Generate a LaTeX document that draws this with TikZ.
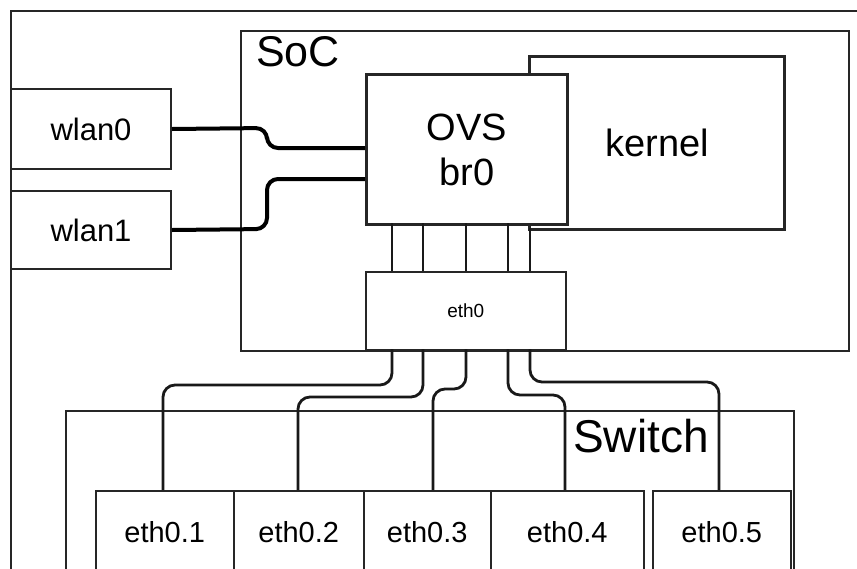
\documentclass[tikz,border=0pt]{standalone}
\usepackage{fontspec}
\setmainfont{Liberation Sans}
\begin{document}
\begin{tikzpicture}[x=1pt,y=-1pt,
  box/.style={draw=black!85, fill=white, line width=2pt, inner sep=0pt, anchor=north west, align=center},
  thickbox/.style={box, line width=3pt},
  thinbox/.style={box, line width=1.5pt},
  wlanwire/.style={draw=black, line width=4pt, rounded corners=11pt},
  ethwire/.style={draw=black!90, line width=2.8pt, rounded corners=12pt},
  upwire/.style={draw=black!90, line width=2.6pt},
  fwlan/.style={font=\fontsize{31}{36}\selectfont},
  fbig/.style={font=\fontsize{38}{45}\selectfont},
  fport/.style={font=\fontsize{29}{34}\selectfont},
  fsmall/.style={font=\fontsize{19}{22}\selectfont},
  ftitle/.style={font=\fontsize{43}{50}\selectfont}]
\useasboundingbox (0,0) rectangle (857,568);
\clip (0,0) rectangle (857,568);

% outer frame
\node[box, minimum width=880pt, minimum height=600pt] (frame) at (10,10) {};
% SoC
\node[box, minimum width=608pt, minimum height=320pt] (soc) at (240,30) {};
\node[ftitle, anchor=base west, inner sep=0pt] (soclbl) at (256,66) {SoC};
% wlan boxes
\node[box, fwlan, minimum width=160pt, minimum height=80pt] (wlan0) at (10,88) {wlan0};
\node[box, fwlan, minimum width=160pt, minimum height=78pt] (wlan1) at (10,190) {wlan1};
% kernel and OVS
\node[thickbox, fbig, minimum width=255pt, minimum height=173pt] (kernel) at (528,55) {kernel};
\node[thickbox, fbig, minimum width=201pt, minimum height=150pt] (ovs) at (365,73) {OVS\\br0};

% wlan connectors
\coordinate (w0in) at (365,148);
\coordinate (w1in) at (365,179);
\draw[wlanwire] (wlan0.east) -- (267,128) -- (267,148) -- (w0in);
\draw[wlanwire] (wlan1.east) -- (267,229) -- (267,179) -- (w1in);

% connectors OVS -> eth0 (upper part)
\coordinate (o1) at (392,223); \coordinate (t1) at (392,271);
\coordinate (o2) at (423,223); \coordinate (t2) at (423,271);
\coordinate (o3) at (466,223); \coordinate (t3) at (466,271);
\coordinate (o4) at (508,223); \coordinate (t4) at (508,271);
\coordinate (o5) at (530,228); \coordinate (t5) at (530,271);
\foreach \i in {1,...,5} {\draw[upwire] (o\i) -- (t\i);}

% eth0 box
\node[thinbox, fsmall, minimum width=200pt, minimum height=78pt] (eth0) at (365,271) {eth0};

% Switch
\node[thinbox, minimum width=728pt, minimum height=200pt] (switch) at (65,410) {};
\node[font=\fontsize{46}{52}\selectfont, anchor=base, inner sep=0pt] (swlbl) at (641,452) {Switch};

% ports
\node[thinbox, fport, minimum width=138pt, minimum height=82pt] (p1) at (95,490) {eth0.1};
\node[thinbox, fport, minimum width=130pt, minimum height=82pt] (p2) at (233,490) {eth0.2};
\node[thinbox, fport, minimum width=127pt, minimum height=82pt] (p3) at (363,490) {eth0.3};
\node[thinbox, fport, minimum width=153pt, minimum height=82pt] (p4) at (490,490) {eth0.4};
\node[thinbox, fport, minimum width=138pt, minimum height=82pt] (p5) at (652,490) {eth0.5};

% lower connectors eth0 -> ports
\coordinate (b1) at (392,349); \coordinate (q1) at (163,490);
\coordinate (b2) at (423,349); \coordinate (q2) at (298,490);
\coordinate (b3) at (466,349); \coordinate (q3) at (433,490);
\coordinate (b4) at (508,349); \coordinate (q4) at (565,490);
\coordinate (b5) at (530,349); \coordinate (q5) at (719,490);
\draw[ethwire] (b1) -- (392,385) -- (163,385) -- (q1);
\draw[ethwire] (b2) -- (423,397) -- (298,397) -- (q2);
\draw[ethwire] (b3) -- (466,389) -- (433,389) -- (q3);
\draw[ethwire] (b4) -- (508,395) -- (565,395) -- (q4);
\draw[ethwire] (b5) -- (530,382) -- (719,382) -- (q5);
\end{tikzpicture}
\end{document}
